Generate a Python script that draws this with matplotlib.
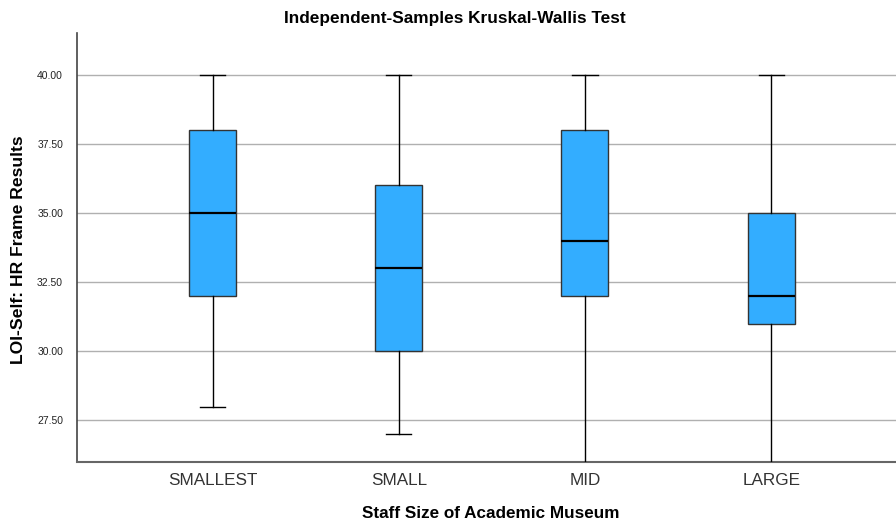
import matplotlib
matplotlib.use("Agg")
import matplotlib.pyplot as plt

plt.rcParams['font.family'] = ['Liberation Sans', 'DejaVu Sans']

categories = ["SMALLEST", "SMALL", "MID", "LARGE"]
whisker_low = [28.0, 27.0, 25.0, 25.0]
q1 = [32.0, 30.0, 32.0, 31.0]
median = [35.0, 33.0, 34.0, 32.0]
q3 = [38.0, 36.0, 38.0, 35.0]
whisker_high = [40.0, 40.0, 40.0, 40.0]
yticks = [27.5, 30.0, 32.5, 35.0, 37.5, 40.0]

W, H = 896, 522
fig = plt.figure(figsize=(W / 100, H / 100), dpi=100)
ax = fig.add_axes([77 / W, 1 - 462 / H, 828 / W, (462 - 33) / H])

stats = []
for i, c in enumerate(categories):
    stats.append(dict(label=c, whislo=whisker_low[i], q1=q1[i], med=median[i],
                      q3=q3[i], whishi=whisker_high[i], fliers=[]))

ax.bxp(stats, positions=range(1, len(categories) + 1), widths=0.253,
       patch_artist=True, showfliers=False,
       boxprops=dict(facecolor="#33adff", edgecolor="#333333", linewidth=1.0),
       medianprops=dict(color="black", linewidth=1.6),
       whiskerprops=dict(color="black", linewidth=1.0),
       capprops=dict(color="black", linewidth=1.0),
       capwidths=0.135, zorder=3)

ax.set_xlim(0.272, 4.719)
ax.set_ylim(26.0, 41.5)
ax.set_yticks(yticks)
ax.set_yticklabels([f"{v:.2f}" for v in yticks], fontsize=7.5, color="#222222")
ax.tick_params(axis='y', length=0, pad=10)
ax.tick_params(axis='x', length=0, pad=8, labelsize=12.3, labelcolor="#333333")
ax.yaxis.grid(True, color="#b0b0b0", linewidth=1.0, zorder=0)
ax.set_axisbelow(True)
for s in ["top", "right"]:
    ax.spines[s].set_visible(False)
ax.spines["left"].set_color("#444444")
ax.spines["bottom"].set_color("#666666")
ax.spines["left"].set_linewidth(1.2)
ax.spines["bottom"].set_linewidth(1.5)

fig.text(455 / W, 1 - 18.5 / H, "Independent-Samples Kruskal-Wallis Test",
         ha="center", va="center", fontsize=12.4, fontweight="bold")
ax.set_xlabel("Staff Size of Academic Museum", fontsize=12.3, fontweight="bold")
ax.xaxis.set_label_coords(0.5, -(514 - 462) / (462 - 33))
ax.xaxis.label.set_va("center")
fig.text(19 / W, 1 - 250 / H, "LOI-Self: HR Frame Results", rotation=90,
         ha="center", va="center", fontsize=12.6, fontweight="bold")

fig.savefig("out.png", dpi=100)
